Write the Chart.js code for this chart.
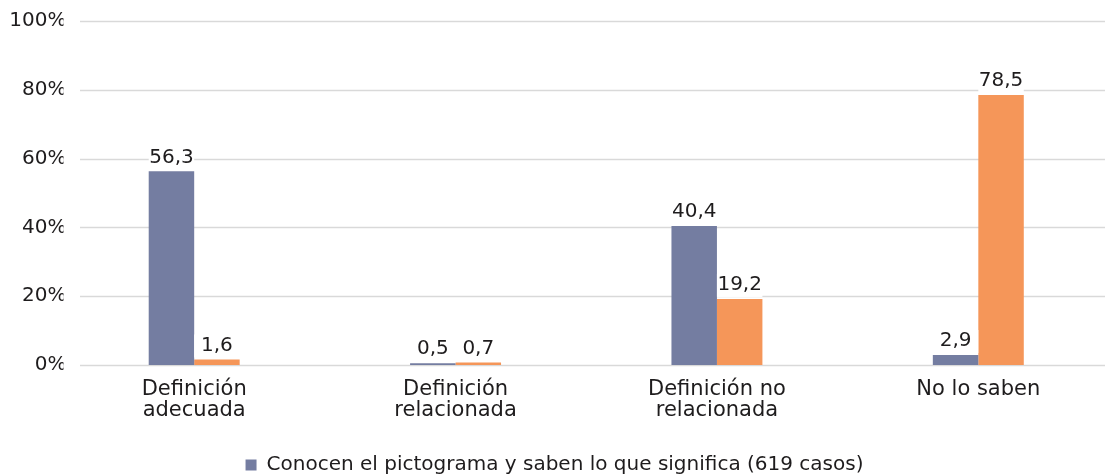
<!DOCTYPE html>
<html>
<head>
<meta charset="utf-8">
<script src="https://cdn.jsdelivr.net/npm/chart.js@4/dist/chart.umd.min.js"></script>
<style>
  html, body { margin: 0; padding: 0; background: #fff; overflow: hidden; }
  #wrap { position: relative; width: 1109px; height: 485px; }
</style>
</head>
<body>
<div id="wrap"><canvas id="grafico"></canvas></div>
<script>
// datos del gráfico
const categorias = [
    ['Definición', 'adecuada'],
    ['Definición', 'relacionada'],
    ['Definición no', 'relacionada'],
    ['No lo saben']
];
const conocen = [56.3, 0.5, 40.4, 2.9];
const noConocen = [1.6, 0.7, 19.2, 78.5];
const etiquetasY = [0, 20, 40, 60, 80, 100];

const azul = '#747DA1';
const naranja = '#F59659';
const textoColor = '#1E1C1D';
const fuente = 'DejaVu Sans';

// líneas de la cuadrícula empezando un poco a la derecha de las etiquetas
const cuadricula = {
    id: 'cuadricula',
    beforeDatasetsDraw(chart) {
        const { ctx } = chart;
        const y = chart.scales.y;
        ctx.save();
        ctx.strokeStyle = '#D9D9D9';
        ctx.lineWidth = 1.5;
        etiquetasY.forEach(v => {
            const py = Math.round(y.getPixelForValue(v)) + 0.5;
            ctx.beginPath();
            ctx.moveTo(80, py);
            ctx.lineTo(chart.width, py);
            ctx.stroke();
        });
        ctx.restore();
    }
};

// valores encima de cada barra, con fondo blanco
const valores = {
    id: 'valores',
    afterDatasetsDraw(chart) {
        const { ctx } = chart;
        ctx.save();
        ctx.font = '20px "' + fuente + '"';
        ctx.textAlign = 'center';
        ctx.textBaseline = 'bottom';
        chart.data.datasets.forEach((ds, i) => {
            chart.getDatasetMeta(i).data.forEach((bar, j) => {
                const texto = ds.data[j].toFixed(1).replace('.', ',');
                ctx.fillStyle = '#fff';
                ctx.fillRect(bar.x - bar.width / 2, bar.y - 25, bar.width, 23);
                ctx.fillStyle = textoColor;
                ctx.fillText(texto, bar.x, bar.y - 4);
            });
        });
        ctx.restore();
    }
};

new Chart(document.getElementById('grafico').getContext('2d'), {
    type: 'bar',
    data: {
        labels: categorias,
        datasets: [
            {
                label: 'Conocen el pictograma y saben lo que significa (619 casos)',
                data: conocen,
                backgroundColor: azul
            },
            {
                label: 'No conocen el pictograma',
                data: noConocen,
                backgroundColor: naranja
            }
        ]
    },
    options: {
        responsive: true,
        maintainAspectRatio: false,
        animation: false,
        categoryPercentage: 0.348,
        barPercentage: 1,
        layout: { padding: { top: 21, left: 0, right: 0, bottom: 0 } },
        plugins: {
            legend: {
                position: 'bottom',
                labels: {
                    boxWidth: 11,
                    boxHeight: 11,
                    padding: 3,
                    color: textoColor,
                    font: { family: fuente, size: 20 },
                    filter: item => item.datasetIndex === 0
                }
            },
            tooltip: { enabled: false }
        },
        scales: {
            x: {
                grid: { display: false },
                border: { display: false },
                afterFit(scale) { scale.height = 87; },
                ticks: {
                    color: textoColor,
                    padding: 6,
                    maxRotation: 0,
                    font: { family: fuente, size: 21, lineHeight: 1.0 }
                }
            },
            y: {
                min: 0,
                max: 100,
                afterFit(scale) { scale.width = 63.5; },
                grid: { display: false },
                border: { display: false },
                afterBuildTicks(scale) {
                    scale.ticks = etiquetasY.map(v => ({ value: v }));
                },
                ticks: {
                    color: textoColor,
                    padding: -11,
                    font: { family: fuente, size: 20 },
                    callback: v => v + '%'
                }
            }
        }
    },
    plugins: [cuadricula, valores]
});
</script>
</body>
</html>
